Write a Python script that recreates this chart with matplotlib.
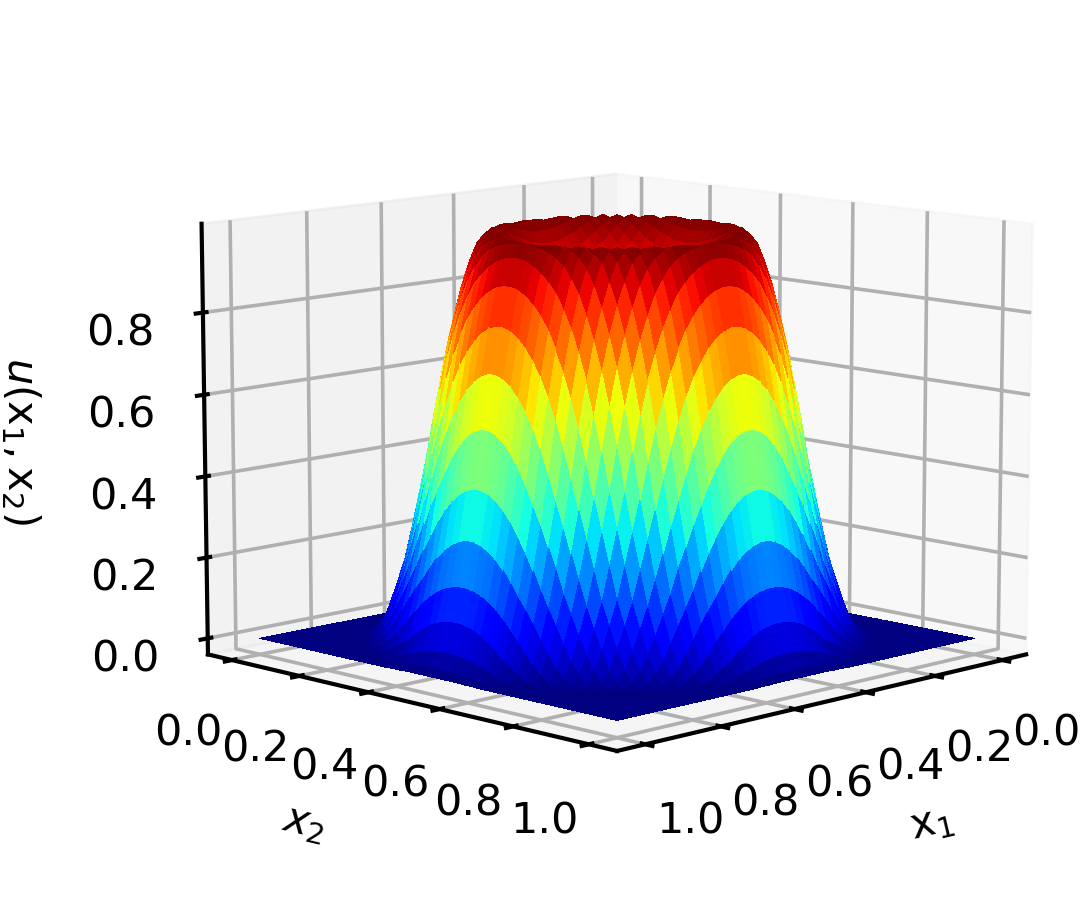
import numpy as np
import matplotlib
matplotlib.use("Agg")
import matplotlib.pyplot as plt

# grid of the surface, 50 points on each axis
x1_values = np.linspace(0, 1, 50)
x2_values = np.linspace(0, 1, 50)

# u: one quadrant, going out from the centre.
# each row starts on the diagonal, the hump is symmetric
u_rows = [
    [.870, .871, .872, .874, .877, .882, .891, .903, .920, .945, .973, .992, .994, .964, .899, .808, .698, .568, .428, .309, .199, .119, .050, .015, .002],
    [.871, .873, .874, .878, .883, .893, .905, .923, .948, .975, .994, .992, .959, .893, .801, .690, .560, .422, .303, .195, .116, .048, .014, .002],
    [.874, .876, .880, .885, .896, .909, .927, .955, .980, .996, .988, .950, .881, .788, .675, .545, .409, .292, .188, .110, .045, .013, .002],
    [.879, .883, .891, .902, .915, .936, .963, .986, .998, .981, .936, .863, .767, .652, .521, .390, .276, .176, .100, .041, .012, .002],
    [.889, .898, .909, .925, .948, .973, .991, .996, .971, .917, .839, .739, .622, .490, .365, .254, .161, .087, .034, .010, .001],
    [.907, .920, .939, .963, .984, .998, .988, .955, .893, .808, .705, .583, .451, .334, .226, .142, .072, .027, .007, .001],
    [.936, .958, .978, .992, .996, .974, .927, .857, .767, .660, .537, .409, .298, .195, .119, .052, .018, .003, .000],
    [.975, .990, .999, .983, .950, .893, .815, .719, .606, .482, .365, .259, .169, .097, .041, .012, .002, .000],
    [.998, .988, .964, .913, .845, .760, .660, .545, .422, .315, .215, .138, .072, .028, .008, .001, .000],
    [.967, .922, .863, .788, .698, .591, .475, .365, .265, .176, .106, .047, .015, .003, .000, .000],
    [.869, .801, .719, .622, .514, .403, .303, .210, .138, .075, .031, .010, .001, .000, .000],
    [.726, .637, .537, .428, .334, .243, .165, .100, .045, .015, .004, .000, .000, .000],
    [.545, .444, .353, .265, .184, .119, .062, .027, .008, .001, .000, .000, .000],
    [.359, .276, .195, .134, .078, .036, .012, .002, .000, .000, .000, .000],
    [.199, .142, .087, .042, .015, .005, .001, .000, .000, .000, .000],
    [.091, .045, .020, .007, .001, .000, .000, .000, .000, .000],
    [.021, .008, .001, .000, .000, .000, .000, .000, .000],
    [.002, .000, .000, .000, .000, .000, .000, .000],
    [.000, .000, .000, .000, .000, .000, .000],
    [.000, .000, .000, .000, .000, .000],
    [.000, .000, .000, .000, .000],
    [.000, .000, .000, .000],
    [.000, .000, .000],
    [.000, .000],
    [.000],
]

x_ticks = [0.0, 0.2, 0.4, 0.6, 0.8, 1.0]
z_ticks = [0.0, 0.2, 0.4, 0.6, 0.8]

# fill the quadrant from the rows, then mirror it to the whole square
quad = np.zeros((25, 25))
for i, row in enumerate(u_rows):
    quad[i, i:] = row
    quad[i:, i] = row
half = np.hstack([quad[:, ::-1], quad])
u = np.vstack([half[::-1, :], half])

X1, X2 = np.meshgrid(x1_values, x2_values)

plt.rcParams["axes.linewidth"] = 1.5
plt.rcParams["grid.linewidth"] = 1.3
plt.rcParams["xtick.major.width"] = 1.5
plt.rcParams["ytick.major.width"] = 1.5

fig = plt.figure(figsize=(5.4, 4.53), dpi=200)
ax = fig.add_axes([0.06, 0, 1, 1], projection="3d")
ax.plot_surface(X1, X2, u, cmap="jet", linewidth=0, antialiased=False, rcount=50, ccount=50)
ax.view_init(elev=10, azim=45)
ax.set_zlim(-0.04, 1.015, view_margin=0)
ax.set_xticks(x_ticks)
ax.set_yticks(x_ticks)
ax.set_zticks(z_ticks)
ax.tick_params(labelsize=15.5)
ax.tick_params(axis="x", pad=9)
ax.tick_params(axis="y", pad=9)
ax.tick_params(axis="z", pad=9)
ax.set_xlabel(r"$\mathrm{x}_1$", fontsize=15, labelpad=17)
ax.set_ylabel(r"$x_2$", fontsize=15, labelpad=17)
ax.zaxis.set_rotate_label(False)
ax.set_zlabel(r"$u(\mathrm{x}_1, \mathrm{x}_2)$", fontsize=15, labelpad=17, rotation=-90)
fig.savefig("out.png", dpi=200)
